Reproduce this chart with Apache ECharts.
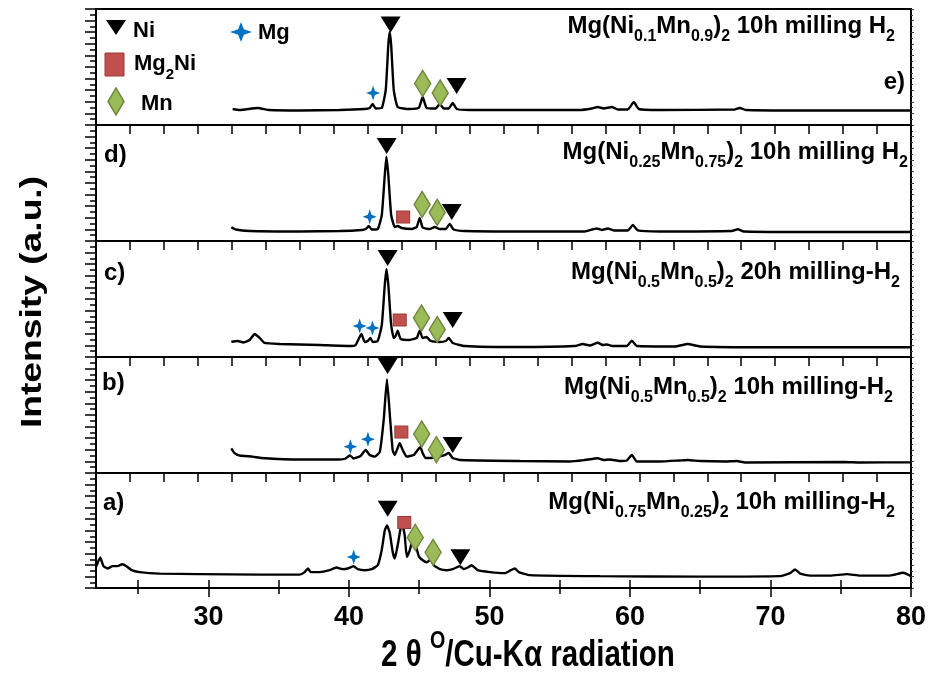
<!DOCTYPE html>
<html>
<head>
<meta charset="utf-8">
<style>
  html, body { margin: 0; padding: 0; background: #fff; }
  #chart { width: 931px; height: 673px; }
</style>
</head>
<body>
<div id="chart"></div>
<script src="https://cdn.jsdelivr.net/npm/echarts@6/dist/echarts.min.js"></script>
<script>
// XRD scans, [2theta (deg), intensity (a.u., 0-100 per panel)]
const scanE = [
  [30.06, 13.8], [30.57, 12.9], [31.9, 14.7], [32.78, 12.9], [34.99, 12.5], [37.94, 12.9],
  [39.78, 13.8], [40.15, 14.7], [40.37, 18.1], [40.59, 14.2], [41.04, 14.7], [41.33, 30.2],
  [41.52, 69], [41.62, 80.2], [41.73, 69], [41.92, 30.2], [42.21, 15.5], [43.09, 13.8],
  [43.76, 14.7], [44.05, 24.1], [44.34, 14.7], [45.01, 14.2], [45.3, 18.1], [45.6, 14.2],
  [45.97, 14.2], [46.26, 19], [46.56, 13.8], [47.51, 12.9], [51.2, 12.9], [55.6, 12.9],
  [56.5, 14.2], [56.94, 15.5], [57.38, 14.2], [57.97, 15.5], [58.42, 13.4], [59.15, 13.4],
  [59.59, 19.8], [59.96, 13.8], [61.51, 12.9], [67.03, 13.4], [67.4, 14.7], [67.84, 12.9],
  [71.82, 12.5], [80, 12.5]
];
const scanD = [
  [29.96, 11.8], [30.28, 9.9], [31.31, 8.6], [34.99, 8.2], [37.94, 8.6], [39.56, 9.5],
  [39.86, 10.3], [40.08, 12.9], [40.3, 9.9], [40.74, 10.3], [41.04, 22.4], [41.26, 56.9],
  [41.38, 72.7], [41.52, 56.9], [41.73, 22.4], [41.99, 12.1], [42.21, 12.9], [42.51, 11.2],
  [43.24, 10.3], [43.61, 12.1], [43.83, 19.8], [44.05, 11.6], [44.57, 10.3], [44.94, 12.1],
  [45.3, 10.3], [45.75, 10.3], [46.04, 14.7], [46.33, 9.9], [47.14, 8.6], [51.2, 8.2],
  [55.98, 8.2], [56.86, 10.8], [57.23, 9.5], [57.68, 10.8], [58.12, 9.1], [59.15, 9.1],
  [59.52, 13.8], [59.89, 9.1], [61.51, 8.2], [66.81, 8.6], [67.25, 10.1], [67.69, 8.2],
  [71.82, 7.8], [80, 7.8]
];
const scanC = [
  [29.96, 13.2], [30.42, 13.8], [30.87, 12.5], [31.31, 14.7], [31.68, 19.8], [32.05, 16.4],
  [32.41, 12.1], [33.52, 11.2], [36.46, 10.3], [38.67, 9.5], [39.11, 10.3], [39.54, 19.8],
  [39.78, 12.9], [40.0, 13.8], [40.2, 16.4], [40.37, 12.9], [40.74, 13.8], [41.04, 27.6],
  [41.26, 62.1], [41.38, 75.6], [41.52, 62.1], [41.73, 27.6], [41.92, 16.4], [42.06, 18.1],
  [42.21, 22.7], [42.43, 15.5], [43.09, 14.7], [43.61, 16.4], [43.83, 22.7], [44.05, 16.4],
  [44.32, 17.2], [44.64, 13.8], [45.3, 12.9], [45.75, 13.8], [45.97, 16.4], [46.26, 12.1],
  [47.14, 9.5], [51.2, 8.6], [55.24, 9.5], [55.83, 11.2], [56.35, 9.9], [56.94, 12.3],
  [57.31, 10.3], [57.61, 10.8], [57.97, 9.5], [59.08, 9.5], [59.45, 14.1], [59.82, 9.5],
  [62.62, 9.1], [63.57, 11.2], [64.46, 9.1], [68.88, 8.4], [80, 8.4]
];
const scanB = [
  [29.96, 21.3], [30.2, 17.2], [30.57, 15.1], [31.53, 14.1], [32.19, 12.9], [34.99, 11.6],
  [37.94, 11.6], [38.38, 12.5], [38.68, 15.1], [38.97, 12.5], [39.48, 14.7], [39.85, 19.8],
  [40.15, 15.5], [40.52, 14.1], [40.89, 18.1], [41.18, 45.7], [41.42, 80.8], [41.66, 45.7],
  [41.84, 19.8], [41.99, 15.5], [42.21, 21.6], [42.36, 25.6], [42.58, 19.8], [42.87, 14.1],
  [43.39, 15.5], [43.68, 19.8], [43.88, 22.2], [44.05, 17.2], [44.27, 12.9], [44.94, 13.4],
  [45.67, 15.5], [45.97, 17.2], [46.26, 12.9], [46.78, 11.2], [51.2, 10.3], [54.88, 9.9],
  [55.98, 11.2], [56.94, 12.7], [57.38, 11.2], [57.83, 11.6], [58.56, 10.3], [59.08, 10.8],
  [59.45, 15.5], [59.82, 9.9], [61.51, 9.9], [62.99, 10.8], [63.57, 11.2], [64.46, 10.3],
  [66.3, 9.9], [67.18, 10.3], [67.77, 9.1], [75.13, 9.5], [76.24, 9.1], [80, 9.2]
];
const scanA = [
  [22.0, 18.4], [22.3, 26.5], [22.53, 19], [22.82, 17], [23.18, 19], [23.53, 19],
  [23.87, 20.7], [24.17, 19], [24.53, 15.5], [25.1, 13.8], [26.52, 12.5], [29.37, 12.1],
  [33.65, 11.6], [36.49, 11.6], [36.85, 13.8], [37.09, 17], [37.28, 13.8], [37.92, 13.8],
  [38.63, 15.5], [39.11, 17.8], [39.56, 16.4], [39.98, 17.2], [40.34, 19], [40.63, 16.4],
  [41.12, 15.5], [41.62, 16.4], [42.05, 19.8], [42.33, 32.8], [42.55, 50], [42.71, 54.3],
  [42.9, 48.3], [43.12, 31], [43.26, 25.6], [43.47, 37.1], [43.69, 52.6], [43.81, 54.3],
  [43.97, 45.7], [44.12, 27], [44.33, 32.8], [44.56, 42.8], [44.76, 37.1], [44.97, 27.6],
  [45.25, 24.1], [45.54, 22.4], [45.83, 25], [46.04, 19.8], [46.47, 16.4], [46.96, 15.5],
  [47.39, 16.4], [47.89, 19], [48.17, 16.4], [48.46, 17.8], [48.72, 19.8], [49.17, 15.5],
  [50.03, 13.8], [51.1, 12.9], [51.52, 15.5], [51.81, 17], [52.09, 13.8], [52.88, 11.2],
  [57.86, 10.3], [64.99, 9.9], [70.68, 10.3], [71.39, 12.9], [71.75, 16.1], [72.11, 12.5],
  [72.82, 10.8], [74.24, 10.8], [75.45, 12.1], [76.38, 10.8], [78.51, 10.8], [79.44, 13.2],
  [80, 10.3]
];

// phase markers [2theta, height]
const niE = [[41.69, 86.6], [46.55, 33.6]];
const mgE = [[40.4, 27.6]];
const mg2niE = [];
const mnE = [[44.05, 35.8], [45.34, 27.6]];

const niD = [[41.4, 81.9], [46.19, 25]];
const mgD = [[40.15, 20.9]];
const mg2niD = [[42.61, 20.7]];
const mnD = [[44.01, 31.5], [45.12, 24.6]];

const niC = [[41.47, 85.3], [46.26, 31.9]];
const mgC = [[39.41, 26.7], [40.35, 25]];
const mg2niC = [[42.36, 31.9]];
const mnC = [[43.96, 33.6], [45.12, 23.7]];

const niB = [[41.47, 92.2], [46.26, 24.1]];
const mgB = [[38.73, 22.7], [40.02, 29.1]];
const mg2niB = [[42.48, 35.3]];
const mnB = [[43.98, 33.6], [45.06, 20.1]];

const niA = [[42.76, 69], [47.93, 26.7]];
const mgA = [[40.34, 27]];
const mg2niA = [[43.94, 56.9]];
const mnA = [[44.72, 44], [45.99, 31]];

const xLabels = [30, 40, 50, 60, 70, 80];
const xMinorTicks = [25, 35, 45, 55, 65, 75];
const xInnerTicks = [25, 30, 35, 40, 45, 50, 55, 60, 65, 70, 75];

const F = '"Liberation Sans", Arial, sans-serif';

const panels = [
  { scan: scanE, ni: niE, mg: mgE, mg2ni: mg2niE, mn: mnE, letter: 'e)',
    title: '{n|Mg(Ni}{s|0.1}{n|Mn}{s|0.9}{n|)}{s|2}{n| 10h milling H}{s|2}' },
  { scan: scanD, ni: niD, mg: mgD, mg2ni: mg2niD, mn: mnD, letter: 'd)',
    title: '{n|Mg(Ni}{s|0.25}{n|Mn}{s|0.75}{n|)}{s|2}{n| 10h milling H}{s|2}' },
  { scan: scanC, ni: niC, mg: mgC, mg2ni: mg2niC, mn: mnC, letter: 'c)',
    title: '{n|Mg(Ni}{s|0.5}{n|Mn}{s|0.5}{n|)}{s|2}{n| 20h milling-H}{s|2}' },
  { scan: scanB, ni: niB, mg: mgB, mg2ni: mg2niB, mn: mnB, letter: 'b)',
    title: '{n|Mg(Ni}{s|0.5}{n|Mn}{s|0.5}{n|)}{s|2}{n| 10h milling-H}{s|2}' },
  { scan: scanA, ni: niA, mg: mgA, mg2ni: mg2niA, mn: mnA, letter: 'a)',
    title: '{n|Mg(Ni}{s|0.75}{n|Mn}{s|0.25}{n|)}{s|2}{n| 10h milling-H}{s|2}' }
];

const tops = [9, 125, 241, 357, 473];
const heights = [116, 116, 116, 116, 115];
const titlePos = [[895, 26], [908, 152], [900, 272], [893, 387], [895, 502]];
const letterPos = [[905, 82], [104, 155], [104, 273], [102, 383], [103, 503]];

const starPath = 'path://M0,-10 L2.6,-2.6 L10,0 L2.6,2.6 L0,10 L-2.6,2.6 L-10,0 L-2.6,-2.6 Z';
const black = '#000';

// main text centred in a tall line box, subscripts pinned to its bottom
function subRich(size, subSize, drop) {
  return {
    n: { fontFamily: F, fontSize: size, fontWeight: 'bold', fill: black,
         lineHeight: size, verticalAlign: 'middle' },
    s: { fontFamily: F, fontSize: subSize, fontWeight: 'bold', fill: black,
         lineHeight: 2 * (drop + subSize / 2), verticalAlign: 'bottom' }
  };
}

const grid = panels.map((p, i) => ({
  left: 96, right: 20, top: tops[i], height: heights[i],
  show: true, borderColor: black, borderWidth: 2
}));

const xAxis = panels.map((p, i) => {
  if (i < 4) {
    return {
      gridIndex: i, type: 'value', min: 20, max: 80, interval: 2.5, position: 'bottom',
      axisLine: { show: true, lineStyle: { color: black, width: 2 } },
      axisTick: { show: true, inside: false, length: 9, lineStyle: { color: black, width: 1.5 } },
      axisLabel: { show: false }, splitLine: { show: false }
    };
  }
  return {
    gridIndex: i, type: 'value', min: 22, max: 80, position: 'bottom',
    axisLine: { show: true, lineStyle: { color: black, width: 2 } },
    axisTick: { show: true, inside: false, length: 9, customValues: xLabels,
                lineStyle: { color: black, width: 1.5 } },
    axisLabel: { show: true, customValues: xLabels, margin: 16, color: black,
                 fontFamily: F, fontSize: 27, fontWeight: 'bold' },
    splitLine: { show: false }
  };
});
// extra tick rows for the bottom panel
xAxis.push({
  gridIndex: 4, type: 'value', min: 22, max: 80, position: 'bottom',
  axisLine: { show: false },
  axisTick: { show: true, inside: false, length: 6, customValues: xMinorTicks,
              lineStyle: { color: black, width: 1.5 } },
  axisLabel: { show: false }, splitLine: { show: false }
});
xAxis.push({
  gridIndex: 4, type: 'value', min: 22, max: 80, position: 'bottom',
  axisLine: { show: false },
  axisTick: { show: true, inside: true, length: 8, customValues: xInnerTicks,
              lineStyle: { color: black, width: 1.5 } },
  axisLabel: { show: false }, splitLine: { show: false }
});

const yAxis = [];
panels.forEach((p, i) => {
  yAxis.push({
    gridIndex: i, type: 'value', min: 0, max: 100, interval: 10, position: 'left',
    axisLine: { show: true, lineStyle: { color: black, width: 2 } },
    axisTick: { show: true, inside: false, length: 11, lineStyle: { color: black, width: 1.5 } },
    minorTick: { show: true, splitNumber: 2, length: 6, lineStyle: { color: black, width: 1.5 } },
    axisLabel: { show: false }, splitLine: { show: false }, minorSplitLine: { show: false }
  });
});
panels.forEach((p, i) => {
  yAxis.push({
    gridIndex: i, type: 'value', min: 0, max: 100, interval: 10, position: 'right',
    axisLine: { show: true, lineStyle: { color: black, width: 2 } },
    axisTick: { show: true, inside: false, length: 3, lineStyle: { color: '#444', width: 1 } },
    minorTick: { show: true, splitNumber: 2, length: 2, lineStyle: { color: '#444', width: 1 } },
    axisLabel: { show: false }, splitLine: { show: false }
  });
});

const series = [];
panels.forEach((p, i) => {
  series.push({
    type: 'line', xAxisIndex: i, yAxisIndex: i, data: p.scan,
    showSymbol: false, smooth: 0.15,
    lineStyle: { color: black, width: 2.4 }, z: 3
  });
  series.push({
    type: 'scatter', xAxisIndex: i, yAxisIndex: i, data: p.ni, clip: false,
    symbol: 'triangle', symbolRotate: 180, symbolSize: [20, 16],
    itemStyle: { color: black, opacity: 1 }, z: 5
  });
  series.push({
    type: 'scatter', xAxisIndex: i, yAxisIndex: i, data: p.mg, clip: false,
    symbol: starPath, symbolSize: [14, 15],
    itemStyle: { color: '#0070c0', opacity: 1 }, z: 5
  });
  series.push({
    type: 'scatter', xAxisIndex: i, yAxisIndex: i, data: p.mg2ni, clip: false,
    symbol: 'rect', symbolSize: [13, 12],
    itemStyle: { color: '#c0504d', borderColor: '#9a3b39', borderWidth: 1, opacity: 1 }, z: 5
  });
  series.push({
    type: 'scatter', xAxisIndex: i, yAxisIndex: i, data: p.mn, clip: false,
    symbol: 'diamond', symbolSize: [16, 26],
    itemStyle: { color: '#9bbb59', borderColor: '#71893f', borderWidth: 1.5, opacity: 1 }, z: 5
  });
});

const graphic = [];
panels.forEach((p, i) => {
  graphic.push({
    type: 'text', x: titlePos[i][0], y: titlePos[i][1], z: 10,
    style: { text: p.title, rich: subRich(24, 16, 11), align: 'right', verticalAlign: 'middle' }
  });
  graphic.push({
    type: 'text', x: letterPos[i][0], y: letterPos[i][1], z: 10,
    style: { text: p.letter, fill: black, font: 'bold 24px ' + F,
             align: i === 0 ? 'right' : 'left', verticalAlign: 'middle' }
  });
});
// legend inside the top panel
graphic.push(
  { type: 'polygon', z: 10, shape: { points: [[106, 20], [126, 20], [116, 35]] }, style: { fill: black } },
  { type: 'text', x: 133, y: 31, z: 10, style: { text: 'Ni', fill: black, font: 'bold 22px ' + F, verticalAlign: 'middle' } },
  { type: 'rect', z: 10, shape: { x: 105, y: 53, width: 19, height: 23 }, style: { fill: '#c0504d', stroke: '#9a3b39', lineWidth: 1 } },
  { type: 'text', x: 134, y: 64, z: 10,
    style: { text: '{n|Mg}{s|2}{n|Ni}', verticalAlign: 'middle', rich: subRich(22, 15, 11) } },
  { type: 'polygon', z: 10, shape: { points: [[116, 88], [124, 101.5], [116, 115], [108, 101.5]] },
    style: { fill: '#9bbb59', stroke: '#71893f', lineWidth: 1.5 } },
  { type: 'text', x: 141, y: 104, z: 10, style: { text: 'Mn', fill: black, font: 'bold 22px ' + F, verticalAlign: 'middle' } },
  { type: 'polygon', z: 10, shape: { points: [[241, 22], [243.8, 29.2], [252, 32], [243.8, 34.8], [241, 42], [238.2, 34.8], [230, 32], [238.2, 29.2]] },
    style: { fill: '#0070c0' } },
  { type: 'text', x: 258, y: 33, z: 10, style: { text: 'Mg', fill: black, font: 'bold 22px ' + F, verticalAlign: 'middle' } },
  // axis titles
  { type: 'text', x: 33, y: 302, rotation: Math.PI / 2, scaleX: 1.24, z: 10,
    style: { text: 'Intensity (a.u.)', fill: black, font: 'bold 30px ' + F, align: 'center', verticalAlign: 'middle' } },
  { type: 'text', x: 528, y: 656, scaleX: 0.82, z: 10,
    style: {
      text: '{n|2 θ }{o|O}{n|/Cu-Kα radiation}', align: 'center', verticalAlign: 'middle',
      rich: {
        n: { fontFamily: F, fontSize: 36, fontWeight: 'bold', fill: black, lineHeight: 36, verticalAlign: 'middle' },
        o: { fontFamily: F, fontSize: 24, fontWeight: 'bold', fill: black, lineHeight: 54, verticalAlign: 'top' }
      }
    } }
);

const chart = echarts.init(document.getElementById('chart'));
chart.setOption({
  animation: false,
  backgroundColor: '#fff',
  grid: grid,
  xAxis: xAxis,
  yAxis: yAxis,
  series: series,
  graphic: graphic
});
</script>
</body>
</html>
